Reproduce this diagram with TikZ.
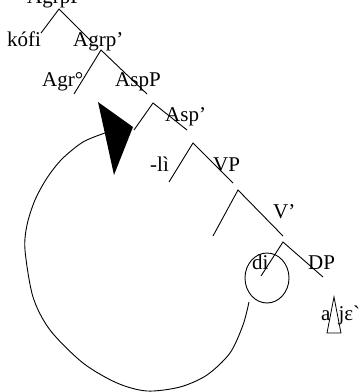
\documentclass[tikz,border=0pt]{standalone}
\usepackage{fontspec}
\setmainfont{Liberation Serif}
\newfontfamily\ipafont[Ligatures=ResetAll]{Liberation Serif}
\usetikzlibrary{positioning}

\begin{document}
\begin{tikzpicture}[x=1pt,y=-1pt,
  branch/.style={line width=0.9pt},
  lbl/.style={inner sep=0pt,anchor=base west,font=\fontsize{21}{24}\selectfont}]
  \useasboundingbox (0,0) rectangle (360,392);
  % branch points and leg ends
  \coordinate (t1) at (59,9);   \coordinate (t1l) at (41,33);  \coordinate (t1r) at (93,43);
  \coordinate (t2) at (101,50); \coordinate (t2l) at (74,94);  \coordinate (t2r) at (147,94);
  \coordinate (t3) at (153,103);\coordinate (t3l) at (134,130);\coordinate (t3r) at (187,130);
  \coordinate (t4) at (193,143);\coordinate (t4l) at (169,182);\coordinate (t4r) at (233,183);
  \coordinate (t5) at (238,190);\coordinate (t5l) at (213,236);\coordinate (t5r) at (283,236);
  \coordinate (t6) at (283,242);\coordinate (t6l) at (261,276);\coordinate (t6r) at (323,277);
  \draw[branch] (t1l)--(t1)--(t1r);
  \draw[branch] (t2l)--(t2)--(t2r);
  \draw[branch] (t3l)--(t3)--(t3r);
  \draw[branch] (t4l)--(t4)--(t4r);
  \draw[branch] (t5l)--(t5)--(t5r);
  \draw[branch] (t6l)--(t6)--(t6r);
  % labels
  \node[lbl] (agrpp) at (27,3) {AgrpP};
  \node[lbl] (kofi) at (7,46) {kófi};
  \node[lbl] (agrpbar) at (73,46) {Agrp'};
  \node[lbl] (agr) at (42,86) {Agr°};
  \node[lbl] (aspp) at (115,86) {AspP};
  \node[lbl] (aspbar) at (165,121) {Asp'};
  \node[lbl] (li) at (150,171) {-lì};
  \node[lbl] (vp) at (213,171) {VP};
  \node[lbl] (vbar) at (273,218) {V'};
  \node[lbl] (di) at (252,269) {di};
  \node[lbl] (dp) at (308,269) {DP};
  \node[lbl] (aje) at (321,320) {\ipafont a\hspace{8pt}jɛ`};
  % DP triangle
  \draw[line width=0.8pt] (334,297)--(327,333)--(341,333)--cycle;
  % circle round the verb
  \draw[branch] (267,278) ellipse [x radius=22pt,y radius=25pt];
  % movement path
  \draw[branch] plot[smooth] coordinates {(249,302) (243,325) (230,353) (207,375)
    (180,387) (147,391) (117,383) (83,363) (50,330) (33,297) (25,250) (27,225)
    (35,200) (47,178) (62,159) (83,142) (105,133)};
  \fill (98,102)--(133,127)--(114,175)--cycle;
\end{tikzpicture}
\end{document}
